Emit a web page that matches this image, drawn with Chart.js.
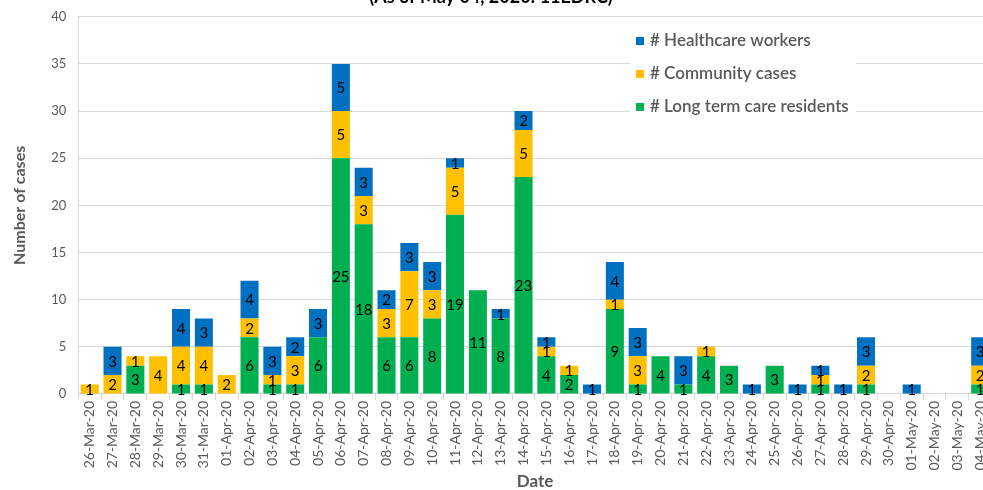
<!DOCTYPE html>
<html>
<head>
<meta charset="utf-8">
<script src="https://cdn.jsdelivr.net/npm/chart.js@4"></script>
<style>
html,body{margin:0;padding:0;background:#fff;overflow:hidden;}
#wrap{width:998px;height:493px;position:relative;margin-top:-3px;}
</style>
</head>
<body>
<div id="wrap"><canvas id="c"></canvas></div>
<script>
const titleText = "(As of May 04, 2020: 11EDRC)";
const categories = ["26-Mar-20","27-Mar-20","28-Mar-20","29-Mar-20","30-Mar-20","31-Mar-20",
"01-Apr-20","02-Apr-20","03-Apr-20","04-Apr-20","05-Apr-20","06-Apr-20","07-Apr-20","08-Apr-20","09-Apr-20","10-Apr-20",
"11-Apr-20","12-Apr-20","13-Apr-20","14-Apr-20","15-Apr-20","16-Apr-20","17-Apr-20","18-Apr-20","19-Apr-20","20-Apr-20",
"21-Apr-20","22-Apr-20","23-Apr-20","24-Apr-20","25-Apr-20","26-Apr-20","27-Apr-20","28-Apr-20","29-Apr-20","30-Apr-20",
"01-May-20","02-May-20","03-May-20","04-May-20"];
const longTermCare = [0,0,3,0,1,1, 0,6,1,1,6,25,18,6,6,8, 19,11,8,23,4,2,0,9,1,4, 1,4,3,0,3,0,1,0,1,0, 0,0,0,1];
const community    = [1,2,1,4,4,4, 2,2,1,3,0,5,3,3,7,3, 5,0,0,5,1,1,0,1,3,0, 0,1,0,0,0,0,1,0,2,0, 0,0,0,2];
const healthcare   = [0,3,0,0,4,3, 0,4,3,2,3,5,3,2,3,3, 1,0,1,2,1,0,1,4,3,0, 3,0,0,1,0,1,1,1,3,0, 1,0,0,3];
const yTicks = [0,5,10,15,20,25,30,35,40];

const GREY = "#595959";
const FONT = "Lato, 'Open Sans', sans-serif";
const SHIFT = 3;

const labelPlugin = {
  id: "segLabels",
  afterDatasetsDraw(chart) {
    const ctx = chart.ctx;
    ctx.save();
    ctx.font = "15px " + FONT;
    ctx.fillStyle = "#000";
    ctx.textAlign = "center";
    ctx.textBaseline = "middle";
    chart.data.datasets.forEach((ds, i) => {
      const meta = chart.getDatasetMeta(i);
      meta.data.forEach((el, j) => {
        const v = ds.data[j];
        if (!v) return;
        const p = el.getProps(["x", "y", "base"], true);
        ctx.fillText(String(v), p.x, (p.y + p.base) / 2 + 1);
      });
    });
    ctx.restore();
  }
};

const overlayPlugin = {
  id: "overlay",
  afterDraw(chart) {
    const ctx = chart.ctx;
    ctx.save();
    ctx.font = "bold 18px " + FONT;
    ctx.fillStyle = "#000";
    ctx.textAlign = "center";
    ctx.textBaseline = "alphabetic";
    ctx.fillText(titleText, 491, 3 + SHIFT);
    ctx.fillStyle = "#fff";
    ctx.fillRect(630, 27 + SHIFT, 226, 94);
    const items = chart.data.datasets.slice().reverse();
    ctx.font = "600 17px " + FONT;
    ctx.textAlign = "left";
    ctx.textBaseline = "middle";
    items.forEach((ds, k) => {
      const y = 41 + SHIFT + k * 33;
      ctx.fillStyle = ds.backgroundColor;
      ctx.fillRect(636, y - 4, 8, 8);
      ctx.fillStyle = GREY;
      ctx.fillText(ds.label, 650, y);
    });
    ctx.restore();
  }
};

new Chart(document.getElementById("c"), {
  type: "bar",
  data: {
    labels: categories,
    datasets: [
      { label: "# Long term care residents", data: longTermCare, backgroundColor: "#00B050" },
      { label: "# Community cases", data: community, backgroundColor: "#FFC000" },
      { label: "# Healthcare workers", data: healthcare, backgroundColor: "#0070C0" }
    ]
  },
  options: {
    responsive: true,
    maintainAspectRatio: false,
    animation: false,
    devicePixelRatio: 1,
    layout: { padding: { top: 0, left: 10, right: 0, bottom: -2 } },
    datasets: { bar: { categoryPercentage: 1, barPercentage: 0.79, borderWidth: 0 } },
    plugins: { legend: { display: false }, tooltip: { enabled: false }, title: { display: false } },
    scales: {
      x: {
        stacked: true,
        ticks: { color: GREY, font: { family: FONT, size: 14 }, minRotation: 90, maxRotation: 90, autoSkip: false, padding: 1 },
        grid: { display: true, drawOnChartArea: false, drawTicks: true, tickLength: 6, color: "#D9D9D9", offset: true },
        border: { display: true, color: "#D9D9D9" },
        title: { display: true, text: "Date", color: GREY, font: { family: FONT, size: 17, weight: "bold" }, padding: { top: 0, bottom: 0 } }
      },
      y: {
        stacked: true,
        min: 0, max: 40,
        afterBuildTicks(axis) { axis.ticks = yTicks.map(v => ({ value: v })); },
        ticks: { color: GREY, font: { family: FONT, size: 13 }, padding: 12 },
        grid: { color: "#D9D9D9", drawTicks: false },
        border: { display: true, color: "#D9D9D9" },
        title: { display: true, text: "Number of cases", color: GREY, font: { family: FONT, size: 16, weight: "bold" }, padding: { top: 0, bottom: 10 } }
      }
    }
  },
  plugins: [labelPlugin, overlayPlugin]
});
</script>
</body>
</html>
